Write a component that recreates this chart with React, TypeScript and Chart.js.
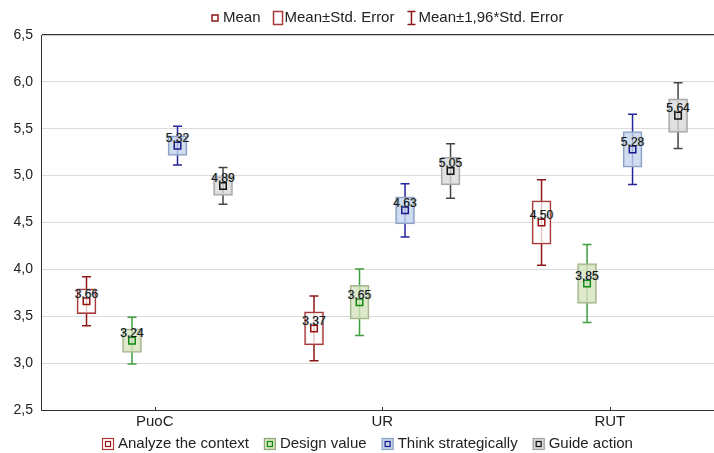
import React, { useEffect, useRef } from "react";
import { Chart, registerables } from "chart.js";

Chart.register(...registerables);

// ---- data ----
const categories = ["PuoC", "UR", "RUT"];
const seriesNames = ["Analyze the context", "Design value", "Think strategically", "Guide action"];
const analyzeMean = [3.66, 3.37, 4.5];
const analyzeSE = [0.133, 0.176, 0.232];
const designMean = [3.24, 3.65, 3.85];
const designSE = [0.127, 0.181, 0.212];
const thinkMean = [5.32, 4.63, 5.28];
const thinkSE = [0.105, 0.145, 0.191];
const guideMean = [4.89, 5.05, 5.64];
const guideSE = [0.1, 0.148, 0.179];
const yTickValues = [2.5, 3.0, 3.5, 4.0, 4.5, 5.0, 5.5, 6.0, 6.5];
const topLegendLabels = ["Mean", "Mean±Std. Error", "Mean±1,96*Std. Error"];
const ciFactor = 1.96;

// ---- styles ----
const FONT = "'Liberation Sans', Arial, sans-serif";
const styles = [
  { fill: "rgba(255,255,255,0.75)", border: "#a83a3a", whisker: "#8e1818", mean: "#9a1010", legendFill: "#ffffff", legendBorder: "#a83a3a", legendInner: "#9a1010" },
  { fill: "rgba(214,227,190,0.8)", border: "#a6b68e", whisker: "#3f9e3f", mean: "#108a10", legendFill: "#d6e3be", legendBorder: "#8fa878", legendInner: "#108a10" },
  { fill: "rgba(196,213,236,0.8)", border: "#8ea2c6", whisker: "#25259c", mean: "#18188a", legendFill: "#c4d5ec", legendBorder: "#8ea2c6", legendInner: "#18188a" },
  { fill: "rgba(218,218,218,0.8)", border: "#a8a8a8", whisker: "#454545", mean: "#111111", legendFill: "#dadada", legendBorder: "#a0a0a0", legendInner: "#111111" },
];
const slotOffsets = [-0.3, -0.1, 0.1, 0.3];

const series = [
  { name: seriesNames[0], mean: analyzeMean, se: analyzeSE },
  { name: seriesNames[1], mean: designMean, se: designSE },
  { name: seriesNames[2], mean: thinkMean, se: thinkSE },
  { name: seriesNames[3], mean: guideMean, se: guideSE },
];

const fmt = (v: number, d: number) => v.toFixed(d).replace(".", ",");

const whiskerPlugin = {
  id: "whiskers",
  beforeDatasetsDraw(chart: any) {
    const { ctx, scales } = chart;
    const x = scales.x, y = scales.y;
    ctx.save();
    ctx.lineWidth = 1.5;
    series.forEach((s, k) => {
      s.mean.forEach((m, i) => {
        const px = x.getPixelForValue(i + slotOffsets[k]);
        const hi = y.getPixelForValue(m + ciFactor * s.se[i]);
        const lo = y.getPixelForValue(m - ciFactor * s.se[i]);
        ctx.strokeStyle = styles[k].whisker;
        ctx.beginPath();
        ctx.moveTo(px, hi);
        ctx.lineTo(px, lo);
        ctx.moveTo(px - 4.5, hi);
        ctx.lineTo(px + 4.5, hi);
        ctx.moveTo(px - 4.5, lo);
        ctx.lineTo(px + 4.5, lo);
        ctx.stroke();
      });
    });
    ctx.restore();
  },
  afterDatasetsDraw(chart: any) {
    const { ctx, scales } = chart;
    const x = scales.x, y = scales.y;
    ctx.save();
    ctx.font = `12px ${FONT}`;
    ctx.textAlign = "center";
    ctx.textBaseline = "middle";
    series.forEach((s, k) => {
      s.mean.forEach((m, i) => {
        const px = x.getPixelForValue(i + slotOffsets[k]);
        const py = y.getPixelForValue(m) - 7;
        const t = fmt(m, 2);
        ctx.fillStyle = "rgba(235,150,40,0.7)";
        ctx.fillText(t, px - 0.7, py);
        ctx.fillStyle = "rgba(40,140,235,0.7)";
        ctx.fillText(t, px + 0.7, py);
        ctx.fillStyle = "#1a1a1a";
        ctx.fillText(t, px, py);
      });
    });
    // inner category ticks on x axis
    ctx.strokeStyle = "#333";
    ctx.lineWidth = 1;
    categories.forEach((_, i) => {
      const px = Math.round(x.getPixelForValue(i)) + 0.5;
      ctx.beginPath();
      ctx.moveTo(px, y.bottom);
      ctx.lineTo(px, y.bottom - 3);
      ctx.stroke();
    });
    ctx.restore();
  },
  afterDraw(chart: any) {
    const { ctx } = chart;
    ctx.save();
    ctx.font = `15px ${FONT}`;
    ctx.textBaseline = "middle";
    ctx.fillStyle = "#222";
    const red = styles[0].whisker;
    // top legend
    let cx = 212;
    const ty = 18;
    ctx.strokeStyle = red;
    ctx.lineWidth = 1.5;
    ctx.strokeRect(cx, ty - 3, 6, 6);
    cx += 11;
    ctx.fillText(topLegendLabels[0], cx, ty);
    cx += ctx.measureText(topLegendLabels[0]).width + 13;
    ctx.strokeStyle = "#a83a3a";
    ctx.strokeRect(cx, ty - 6.5, 9, 13);
    cx += 11;
    ctx.fillText(topLegendLabels[1], cx, ty);
    cx += ctx.measureText(topLegendLabels[1]).width + 13;
    ctx.strokeStyle = red;
    ctx.beginPath();
    ctx.moveTo(cx + 4, ty - 6.5);
    ctx.lineTo(cx + 4, ty + 6.5);
    ctx.moveTo(cx, ty - 6.5);
    ctx.lineTo(cx + 8, ty - 6.5);
    ctx.moveTo(cx, ty + 6.5);
    ctx.lineTo(cx + 8, ty + 6.5);
    ctx.stroke();
    cx += 11;
    ctx.fillText(topLegendLabels[2], cx, ty);

    // bottom legend
    let bx = 102;
    const by = 444;
    series.forEach((s, k) => {
      const st = styles[k];
      ctx.fillStyle = st.legendFill;
      ctx.fillRect(bx, by - 6, 12, 12);
      ctx.strokeStyle = st.legendBorder;
      ctx.lineWidth = 1.2;
      ctx.strokeRect(bx + 0.5, by - 5.5, 11, 11);
      ctx.strokeStyle = st.legendInner;
      ctx.strokeRect(bx + 3.5, by - 2.5, 5, 5);
      ctx.fillStyle = "#222";
      ctx.fillText(s.name, bx + 16, by);
      bx += 16 + ctx.measureText(s.name).width + 15;
    });
    ctx.restore();
  },
};

export default function App() {
  const canvasRef = useRef<HTMLCanvasElement | null>(null);

  useEffect(() => {
    const canvas = canvasRef.current;
    if (!canvas) return;
    const datasets: any[] = [];
    series.forEach((s, k) => {
      datasets.push({
        type: "bar",
        label: s.name,
        data: s.mean.map((m, i) => ({ x: i + slotOffsets[k], y: [m - s.se[i], m + s.se[i]] })),
        backgroundColor: styles[k].fill,
        borderColor: styles[k].border,
        borderWidth: 1.5,
        borderSkipped: false,
        barThickness: 19,
        grouped: false,
        order: 2,
      });
    });
    series.forEach((s, k) => {
      datasets.push({
        type: "scatter",
        label: s.name + " mean",
        data: s.mean.map((m, i) => ({ x: i + slotOffsets[k], y: m })),
        pointStyle: "rect",
        radius: 4.6,
        borderWidth: 1.5,
        borderColor: styles[k].mean,
        backgroundColor: "rgba(0,0,0,0)",
        order: 1,
      });
    });

    const chart = new Chart(canvas, {
      type: "bar",
      data: { datasets },
      plugins: [whiskerPlugin],
      options: {
        animation: false,
        responsive: false,
        devicePixelRatio: 1,
        layout: { autoPadding: false, padding: { top: 35, bottom: 25, left: 0, right: 0 } },
        plugins: { legend: { display: false }, tooltip: { enabled: false }, title: { display: false } },
        scales: {
          x: {
            type: "linear",
            offset: false,
            bounds: "ticks",
            min: -0.5,
            max: 2.458,
            afterBuildTicks: (scale: any) => {
              scale.ticks = categories.map((_, i) => ({ value: i }));
            },
            afterFit: (scale: any) => {
              scale.height = 18;
              scale.paddingLeft = 0;
              scale.paddingRight = 0;
            },
            grid: { display: false, drawTicks: false, offset: false },
            border: { display: true, color: "#333", width: 1 },
            ticks: {
              padding: 3,
              color: "#222",
              font: { family: FONT, size: 15 },
              callback: (v: any) => categories[Math.round(Number(v))] ?? "",
              maxRotation: 0,
              autoSkip: false,
            },
          },
          y: {
            type: "linear",
            min: 2.5,
            max: 6.5,
            afterBuildTicks: (scale: any) => {
              scale.ticks = yTickValues.map((v) => ({ value: v }));
            },
            afterFit: (scale: any) => {
              scale.width = 41;
            },
            grid: {
              drawTicks: false,
              color: (c: any) => (c.tick && c.tick.value === 6.5 ? "#333" : "#dcdcdc"),
              lineWidth: (c: any) => (c.tick && c.tick.value === 6.5 ? 1.2 : 1),
            },
            border: { display: true, color: "#333", width: 1 },
            ticks: {
              padding: 8,
              color: "#222",
              font: { family: FONT, size: 14 },
              callback: (v: any) => fmt(Number(v), 1),
            },
          },
        },
      } as any,
    });
    return () => chart.destroy();
  }, []);

  return (
    <div style={{ position: "fixed", left: 0, top: 0, width: 714, height: 453, overflow: "hidden", background: "#fff" }}>
      <canvas ref={canvasRef} width={714} height={453} style={{ display: "block", width: 714, height: 453 }} />
    </div>
  );
}
